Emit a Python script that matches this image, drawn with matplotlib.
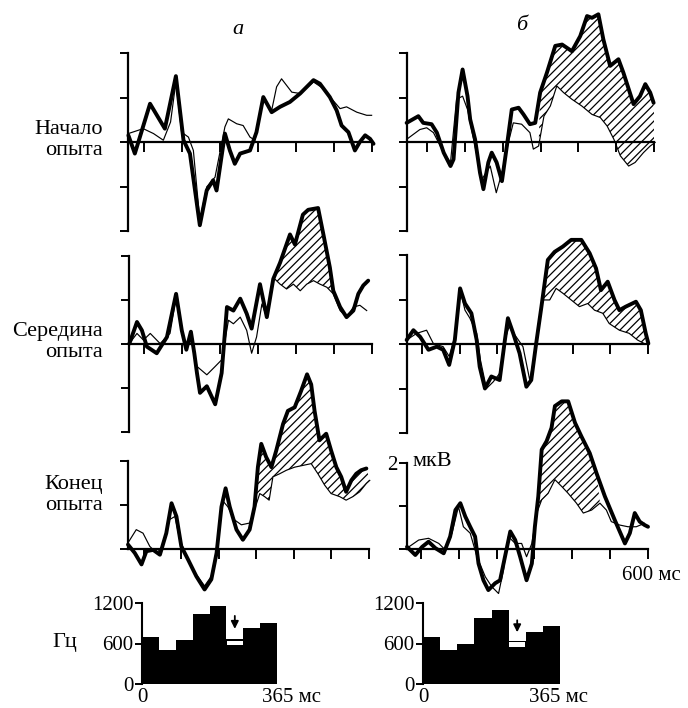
import numpy as np
import matplotlib
matplotlib.use('Agg')
import matplotlib.pyplot as plt

plt.rcParams['font.family'] = ['Liberation Serif', 'DejaVu Serif']
plt.rcParams['hatch.linewidth'] = 0.9

# --- ВП (мс, мкВ): толстая и тонкая кривые ---
nach_a_thick = [(-41, 0.15), (-24, -0.26), (16, 0.86), (55, 0.30), (84, 1.48), (104, 0.04), (121, -0.26),
                (147, -1.87), (165, -1.09), (182, -0.86), (191, -1.09), (213, 0.19), (226, -0.19), (239, -0.49),
                (253, -0.26), (279, -0.19), (296, 0.22), (314, 1.01), (336, 0.67), (358, 0.79), (384, 0.90),
                (411, 1.09), (446, 1.39), (463, 1.31), (489, 1.01), (507, 0.71), (520, 0.37), (538, 0.22),
                (555, -0.19), (568, 0.0), (582, 0.15), (595, 0.07), (604, -0.04)]
nach_a_thin = [(-41, 0.19), (-2, 0.30), (25, 0.19), (51, 0.04), (70, 0.45), (84, 1.35), (99, 0.22), (117, 0.11),
               (130, -0.19), (147, -1.76), (165, -1.01), (187, -0.79), (213, 0.34), (222, 0.52), (244, 0.41),
               (261, 0.37), (279, 0.11), (292, 0.04), (314, 0.94), (336, 0.71), (349, 1.24), (362, 1.42),
               (389, 1.12), (411, 1.09), (446, 1.35), (472, 1.20), (494, 0.97), (516, 0.75), (533, 0.79),
               (560, 0.67), (586, 0.60), (599, 0.60)]

nach_b_thick = [(-54, 0.43), (-23, 0.58), (-10, 0.43), (12, 0.40), (26, 0.21), (44, -0.24), (62, -0.54),
                (70, -0.39), (83, 1.11), (94, 1.63), (107, 1.03), (114, 0.51), (127, 0.06), (140, -0.69),
                (149, -1.06), (162, -0.46), (171, -0.24), (184, -0.46), (198, -0.88), (211, -0.09), (224, 0.73),
                (242, 0.77), (255, 0.62), (272, 0.40), (286, 0.43), (299, 1.11), (317, 1.56), (339, 2.16),
                (357, 2.19), (383, 2.04), (405, 2.38), (423, 2.83), (436, 2.79), (453, 2.87), (466, 2.31),
                (484, 1.71), (506, 1.86), (519, 1.56), (546, 0.85), (563, 1.03), (577, 1.30), (590, 1.11),
                (599, 0.88)]
nach_b_thin = [(-54, 0.06), (-19, 0.28), (-1, 0.32), (17, 0.21), (44, -0.24), (62, -0.46), (78, 0.96),
               (94, 1.03), (107, 0.73), (123, 0.06), (145, -0.84), (167, -0.54), (183, -1.14), (198, -0.69),
               (215, -0.01), (228, 0.43), (250, 0.40), (272, 0.21), (281, -0.16), (295, -0.09), (309, 0.58),
               (326, 0.81), (343, 1.26), (361, 1.11), (383, 0.96), (409, 0.81), (436, 0.62), (458, 0.55),
               (476, 0.36), (494, 0.06), (511, -0.31), (533, -0.54), (550, -0.46), (572, -0.24), (590, -0.09),
               (603, -0.01)]

ser_a_thick = [(-39, 0.01), (-19, 0.50), (-6, 0.31), (7, -0.06), (33, -0.21), (60, 0.16), (84, 1.14), (99, 0.31),
               (111, -0.13), (123, 0.28), (132, -0.21), (139, -0.66), (147, -1.11), (165, -0.96), (187, -1.37),
               (204, -0.66), (218, 0.84), (235, 0.76), (253, 1.03), (270, 0.69), (283, 0.35), (305, 1.36),
               (323, 0.61), (340, 1.48), (358, 1.85), (384, 2.49), (397, 2.26), (418, 2.94), (432, 3.05),
               (458, 3.09), (472, 2.49), (489, 1.74), (498, 1.21), (516, 0.84), (533, 0.61), (551, 0.76),
               (564, 1.14), (577, 1.33), (590, 1.44)]
ser_a_thin = [(-39, 0.01), (-19, 0.24), (-2, 0.09), (16, 0.24), (42, 0.01), (68, 0.24), (84, 1.06), (99, 0.24),
              (112, -0.06), (125, 0.09), (139, -0.51), (165, -0.70), (187, -0.51), (204, -0.36), (222, 0.54),
              (235, 0.46), (253, 0.61), (270, 0.31), (283, -0.21), (296, 0.16), (310, 0.91), (323, 0.61),
              (340, 1.51), (358, 1.36), (375, 1.25), (393, 1.36), (411, 1.21), (428, 1.36), (446, 1.44),
              (463, 1.36), (481, 1.29), (498, 1.14), (516, 0.76), (533, 0.61), (551, 0.84), (568, 0.88),
              (586, 0.76)]

ser_b_thick = [(-41, 0.09), (-23, 0.31), (-5, 0.16), (17, -0.13), (39, -0.06), (56, -0.13), (72, -0.47),
               (87, 0.09), (101, 1.25), (114, 0.91), (131, 0.69), (145, 0.09), (153, -0.51), (167, -1.00),
               (184, -0.73), (206, -0.81), (220, 0.09), (228, 0.58), (242, 0.24), (259, -0.21), (277, -0.96),
               (290, -0.81), (303, 0.01), (317, 0.84), (334, 1.89), (352, 2.07), (374, 2.19), (396, 2.34),
               (423, 2.34), (445, 2.04), (462, 1.70), (475, 1.21), (493, 1.40), (511, 0.99), (524, 0.76),
               (541, 0.84), (568, 0.95), (581, 0.76), (594, 0.24), (601, 0.01)]
ser_b_thin = [(-41, 0.09), (-14, 0.24), (12, 0.31), (30, 0.01), (56, -0.06), (72, -0.28), (87, 0.16),
              (101, 1.21), (114, 0.76), (127, 0.58), (145, 0.24), (155, -0.36), (171, -1.00), (189, -0.85),
              (206, -0.66), (220, 0.09), (231, 0.39), (250, 0.16), (268, -0.06), (286, -0.81), (303, -0.06),
              (321, 0.99), (339, 0.99), (356, 1.25), (374, 1.14), (396, 0.99), (418, 0.84), (440, 0.91),
              (458, 0.76), (480, 0.69), (497, 0.46), (524, 0.31), (550, 0.24), (572, 0.09), (590, 0.01)]

kon_a_thick = [(-42, 0.10), (-24, -0.09), (-6, -0.35), (7, -0.05), (25, -0.02), (43, -0.13), (60, 0.36),
               (74, 1.04), (87, 0.74), (100, 0.06), (118, -0.24), (140, -0.62), (162, -0.92), (180, -0.69),
               (194, -0.09), (207, 0.96), (218, 1.38), (229, 0.96), (247, 0.44), (264, 0.21), (282, 0.44),
               (295, 0.96), (304, 1.86), (313, 2.39), (326, 2.09), (340, 1.86), (353, 2.24), (371, 2.84),
               (384, 3.14), (402, 3.22), (419, 3.59), (435, 3.97), (446, 3.74), (455, 3.14), (468, 2.47),
               (486, 2.62), (499, 2.24), (513, 1.86), (526, 1.64), (539, 1.30), (553, 1.56), (566, 1.71),
               (579, 1.79), (593, 1.83)]
kon_a_thin = [(-42, 0.14), (-20, 0.44), (-2, 0.36), (16, 0.06), (34, -0.09), (51, 0.06), (67, 0.66), (83, 0.74),
              (96, 0.21), (118, -0.24), (140, -0.58), (162, -0.84), (180, -0.62), (194, -0.02), (209, 1.11),
              (224, 0.96), (242, 0.66), (260, 0.55), (282, 0.59), (295, 0.89), (309, 1.26), (322, 1.19),
              (334, 1.11), (344, 1.64), (362, 1.71), (380, 1.79), (402, 1.86), (424, 1.90), (446, 1.94),
              (464, 1.71), (482, 1.45), (499, 1.26), (522, 1.19), (539, 1.11), (557, 1.19), (575, 1.30),
              (593, 1.49), (602, 1.56)]

kon_b_thick = [(-37, 0.05), (-15, -0.14), (3, 0.05), (20, 0.17), (38, 0.02), (60, -0.10), (77, 0.29), (91, 0.91),
               (104, 1.07), (117, 0.76), (130, 0.52), (143, 0.29), (152, -0.34), (165, -0.73), (178, -0.96),
               (196, -0.80), (209, -0.73), (222, -0.18), (236, 0.41), (249, 0.21), (262, -0.18), (279, -0.73),
               (293, -0.34), (301, 0.52), (310, 1.23), (319, 2.32), (332, 2.52), (345, 2.83), (354, 3.34),
               (372, 3.45), (389, 3.45), (407, 2.95), (424, 2.63), (446, 2.24), (464, 1.77), (486, 1.23),
               (512, 0.68), (539, 0.13), (552, 0.37), (565, 0.84), (578, 0.64), (591, 0.56), (600, 0.52)]
kon_b_thin = [(-37, 0.02), (-6, 0.21), (20, 0.25), (47, 0.13), (64, -0.02), (82, 0.37), (99, 0.99), (112, 0.52),
              (130, 0.37), (148, -0.18), (170, -0.65), (187, -0.88), (205, -1.04), (218, -0.49), (231, 0.29),
              (249, 0.13), (266, 0.13), (279, -0.18), (293, 0.13), (306, 0.84), (319, 1.15), (336, 1.30),
              (354, 1.62), (372, 1.46), (389, 1.30), (411, 1.07), (429, 0.84), (451, 0.91), (473, 1.07),
              (490, 0.91), (503, 0.64), (525, 0.56), (547, 0.52), (569, 0.52), (591, 0.60)]

# интервалы штриховки (мс)
hatch_nach_b = (295, 603)
hatch_ser_a = (338, 551)
hatch_ser_b = (317, 601)
hatch_kon_a = (295, 602)
hatch_kon_b = (306, 473)

# гистограммы частоты (Гц), 8 интервалов по 0-365 мс
hist_a = [700, 500, 650, 1040, 1150, 665, 825, 900]
hist_b = [698, 502, 598, 973, 1090, 641, 763, 860]
band_a = (575, 635)
band_b = (550, 622)
arrow_a = (1050, 775)
arrow_b = (985, 725)

W, H = 688, 708
fig = plt.figure(figsize=(6.88, 7.08), dpi=100)
fig.patch.set_facecolor('white')


def px_axes(left, right, top, bottom):
    ax = fig.add_axes([left / W, 1 - bottom / H, (right - left) / W, (bottom - top) / H])
    ax.patch.set_visible(False)
    return ax


def erp_panel(left, right, xmin, zero_y, ppu, ylo, yhi, spine_lo, thick, thin, hatch=None):
    ax = px_axes(left, right, zero_y - yhi * ppu, zero_y - ylo * ppu)
    ax.set_xlim(xmin, 600)
    ax.set_ylim(ylo, yhi)
    ax.spines['top'].set_visible(False)
    ax.spines['right'].set_visible(False)
    ax.spines['bottom'].set_position(('data', 0))
    ax.spines['bottom'].set_bounds(xmin, 600)
    ax.spines['left'].set_bounds(spine_lo, 2)
    for s in ('left', 'bottom'):
        ax.spines[s].set_linewidth(1.6)
    ax.set_xticks(range(0, 601, 100))
    ax.set_xticklabels([])
    ax.set_yticks(np.arange(spine_lo, 3))
    ax.set_yticklabels([])
    ax.tick_params(axis='x', direction='out', length=7, width=1.4)
    ax.tick_params(axis='y', direction='out', length=6, width=1.4)

    if hatch is not None:
        t0, t1 = hatch
        top = [p for p in thick if t0 <= p[0] <= t1]
        bot = [p for p in thin if t0 <= p[0] <= t1][::-1]
        poly = top + bot
        ax.fill([p[0] for p in poly], [p[1] for p in poly], facecolor='none',
                edgecolor='black', linewidth=0, hatch='////', zorder=1)

    ax.plot([p[0] for p in thin], [p[1] for p in thin], color='black', lw=0.85,
            solid_joinstyle='round', clip_on=False, zorder=2)
    ax.plot([p[0] for p in thick], [p[1] for p in thick], color='black', lw=2.8,
            solid_joinstyle='round', solid_capstyle='round', clip_on=False, zorder=3)
    return ax


def hist_panel(left, right, vals, band, arrow):
    zero_y = 684
    ppu = 81 / 1200
    ax = px_axes(left, right, zero_y - 1300 * ppu, zero_y)
    ax.set_xlim(0, 365)
    ax.set_ylim(0, 1300)
    w = 365 / len(vals)
    edges = np.arange(len(vals)) * w
    ax.bar(edges, vals, width=w, align='edge', color='black', linewidth=0)
    ax.bar(edges[5] + 2, band[1] - band[0], bottom=band[0], width=w - 4, align='edge',
           color='white', linewidth=0)
    xc = edges[5] + w / 2
    ax.annotate('', xy=(xc, arrow[1]), xytext=(xc, arrow[0]),
                arrowprops=dict(arrowstyle='-|>', color='black', lw=1.3, mutation_scale=11))
    for s in ('top', 'right', 'bottom'):
        ax.spines[s].set_visible(False)
    ax.spines['left'].set_bounds(0, 1200)
    ax.spines['left'].set_linewidth(1.5)
    ax.set_xticks([])
    ax.set_yticks([0, 600, 1200])
    ax.set_yticklabels(['0', '600', '1200'], fontsize=15)
    ax.tick_params(axis='y', direction='out', length=5, width=1.4, pad=1)
    return ax


# верхний ряд
erp_panel(128, 372, -42, 142, 44.5, -2.3, 3.1, -2, nach_a_thick, nach_a_thin)
erp_panel(407, 654, -53, 142, 44.5, -2.3, 3.1, -2, nach_b_thick, nach_b_thin, hatch_nach_b)
# средний ряд
erp_panel(129, 372, -40, 344, 44.0, -2.3, 3.3, -2, ser_a_thick, ser_a_thin, hatch_ser_a)
erp_panel(407, 648, -40, 344, 44.5, -2.3, 3.3, -2, ser_b_thick, ser_b_thin, hatch_ser_b)
# нижний ряд
erp_panel(128, 369, -42, 549, 44.0, -1.3, 4.2, 0, kon_a_thick, kon_a_thin, hatch_kon_a)
axbr = erp_panel(407, 648, -37, 549, 42.8, -1.3, 4.2, 0, kon_b_thick, kon_b_thin, hatch_kon_b)
axbr.set_yticklabels(['', '', '2'], fontsize=15)
axbr.tick_params(axis='y', pad=1)
axbr.annotate('600 мс', xy=(600, 0), xytext=(-19, -19), textcoords='offset points',
              ha='left', va='center', fontsize=15)

# гистограммы
ha_ = hist_panel(142, 277, hist_a, band_a, arrow_a)
hb_ = hist_panel(423, 560, hist_b, band_b, arrow_b)
for ax, off in ((ha_, -11), (hb_, -22)):
    ax.annotate('0', xy=(0, 0), xytext=(0, -10), textcoords='offset points',
                ha='center', va='center', fontsize=15)
    ax.annotate('365 мс', xy=(365, 0), xytext=(off, -10), textcoords='offset points',
                ha='left', va='center', fontsize=15)


# подписи
def ftext(x, y, s, **kw):
    fig.text(x / W, 1 - y / H, s, **kw)


ftext(103, 140, 'Начало\nопыта', ha='right', va='center', ma='right', fontsize=16, linespacing=1.15)
ftext(103, 342, 'Середина\nопыта', ha='right', va='center', ma='right', fontsize=16, linespacing=1.15)
ftext(103, 495, 'Конец\nопыта', ha='right', va='center', ma='right', fontsize=16, linespacing=1.15)
ftext(65, 643, 'Гц', ha='center', va='center', fontsize=16)
ftext(238, 30, 'а', ha='center', va='center', fontsize=16, style='italic')
ftext(522, 25, 'б', ha='center', va='center', fontsize=16, style='italic')
ftext(413, 462, 'мкВ', ha='left', va='center', fontsize=16)

fig.savefig('out.png', dpi=100, facecolor='white')
